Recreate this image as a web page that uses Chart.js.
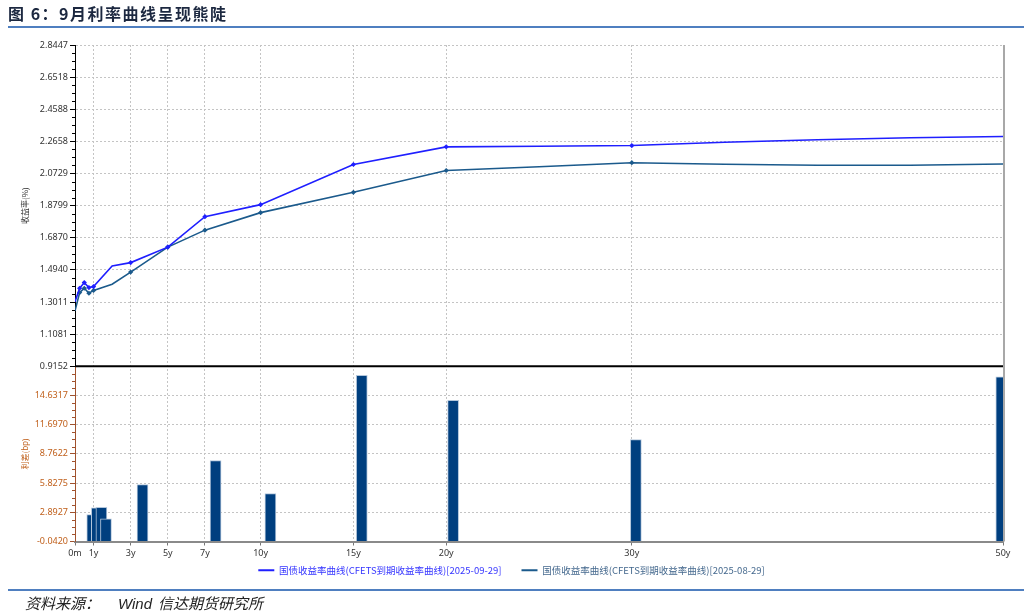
<!DOCTYPE html>
<html lang="zh-CN">
  <head>
    <meta charset="UTF-8" />
    <title>9月利率曲线呈现熊陡</title>
    <script src="https://cdn.jsdelivr.net/npm/chart.js"></script>
    <style>
      body {
        margin: 0;
        background: #fff;
        font-family: "Noto Sans CJK SC", "Noto Sans", sans-serif;
      }
      .page {
        position: relative;
        width: 1032px;
        height: 616px;
        overflow: hidden;
      }
      .title {
        position: absolute;
        left: 8px;
        top: 1px;
        font-size: 16px;
        font-weight: bold;
        color: #1c2840;
        letter-spacing: 1.5px;
      }
      .rule {
        position: absolute;
        left: 8px;
        right: 8px;
        height: 2px;
        background: #4f7fc0;
      }
      .chart-box {
        position: absolute;
        left: 0;
        top: 0;
        width: 1032px;
        height: 599px;
      }
      .source {
        position: absolute;
        left: 25px;
        top: 592px;
        font-size: 15px;
        font-style: italic;
        color: #222;
      }
      .source .en {
        font-family: "Liberation Sans", sans-serif;
        margin-left: 18px;
        margin-right: 6px;
      }
    </style>
  </head>
  <body>
    <div class="page">
      <div class="chart-box"><canvas id="curveChart"></canvas></div>
      <div class="title">图 6：9月利率曲线呈现熊陡</div>
      <div class="rule" style="top: 26px"></div>
      <div class="rule" style="top: 589px"></div>
      <div class="source">资料来源：<span class="en">Wind</span>信达期货研究所</div>
    </div>

    <script>
      // Data (years to maturity, yields in %, spreads in bp)
      const tenors = [0, 0.25, 0.5, 0.75, 1, 2, 3, 5, 7, 10, 15, 20, 25, 30, 35, 40, 45, 50];
      const yieldSep29 = [1.303, 1.384, 1.418, 1.388, 1.394, 1.518, 1.538, 1.631, 1.814, 1.886, 2.127, 2.233, 2.237, 2.241, 2.261, 2.276, 2.288, 2.295];
      const yieldAug29 = [1.248, 1.358, 1.384, 1.354, 1.371, 1.408, 1.481, 1.631, 1.733, 1.838, 1.960, 2.091, 2.114, 2.138, 2.129, 2.123, 2.123, 2.130];
      const markedTenors = [0.25, 0.5, 0.75, 1, 3, 5, 7, 10, 15, 20, 30];

      const spreadTenors = [0.25, 0.5, 0.75, 1, 3, 5, 7, 10, 15, 20, 30, 50];
      const spreadBp = [2.66, 3.33, 3.39, 2.23, 5.68, 0, 8.1, 4.78, 16.66, 14.16, 10.2, 16.5];

      const xTickValues = [0, 1, 3, 5, 7, 10, 15, 20, 30, 50];
      const xTickLabels = ["0m", "1y", "3y", "5y", "7y", "10y", "15y", "20y", "30y", "50y"];
      const yieldTickLabels = ["0.9152", "1.1081", "1.3011", "1.4940", "1.6870", "1.8799", "2.0729", "2.2658", "2.4588", "2.6518", "2.8447"];
      const spreadTickLabels = ["-0.0420", "2.8927", "5.8275", "8.7622", "11.6970", "14.6317"];
      const spreadAxisMax = 17.5664;

      const seriesNames = [
        "国债收益率曲线(CFETS到期收益率曲线)[2025-09-29]",
        "国债收益率曲线(CFETS到期收益率曲线)[2025-08-29]",
      ];

      // Helpers
      const toPoints = (xs, ys) => xs.map((x, i) => ({ x, y: ys[i] }));
      const fixTicks = (values) => (scale) => {
        scale.ticks = values.map((value) => ({ value }));
      };
      const markerRadius = (ctx) =>
        markedTenors.includes(tenors[ctx.dataIndex]) ? 2.6 : 0;

      const tickFont = { family: "'Noto Sans', 'Noto Sans CJK SC', sans-serif", size: 9 };
      const gridColor = "#c4c4c4";

      // pull the legend up right under the axis labels
      const legendNudge = {
        id: "legendNudge",
        afterLayout(chart) {
          const lg = chart.legend;
          if (!lg) return;
          const h = lg.height;
          lg.top = chart.scales.x.bottom - 14;
          lg.bottom = lg.top + h;
        },
      };

      // minor ticks, right frame and the divider between the two panels
      const panelFrame = {
        id: "panelFrame",
        afterDraw(chart) {
          const { ctx, chartArea } = chart;
          const { y, yb } = chart.scales;
          ctx.save();
          ctx.lineWidth = 1;
          [
            [y, "#000", y.max],
            [yb, "#a0522d", spreadAxisMax],
          ].forEach(([scale, color, top]) => {
            const t = scale.ticks.map((tk) => tk.value);
            const step = t[1] - t[0];
            ctx.strokeStyle = color;
            ctx.beginPath();
            t.forEach((v) => {
              for (let k = 1; k < 4; k++) {
                const mv = v + (step * k) / 4;
                if (mv > top + 1e-6) continue;
                const py = Math.round(scale.getPixelForValue(mv)) + 0.5;
                ctx.moveTo(scale.right - 3, py);
                ctx.lineTo(scale.right, py);
              }
            });
            ctx.stroke();
          });

          ctx.strokeStyle = "#a8a8a8";
          ctx.lineWidth = 2;
          ctx.beginPath();
          ctx.moveTo(chartArea.right + 1, chartArea.top);
          ctx.lineTo(chartArea.right + 1, chartArea.bottom);
          ctx.stroke();

          ctx.strokeStyle = "#000";
          ctx.lineWidth = 2;
          ctx.beginPath();
          ctx.moveTo(chartArea.left, yb.top);
          ctx.lineTo(chartArea.right, yb.top);
          ctx.stroke();
          ctx.restore();
        },
      };

      new Chart(document.getElementById("curveChart"), {
        data: {
          datasets: [
            {
              type: "line",
              label: seriesNames[0],
              data: toPoints(tenors, yieldSep29),
              xAxisID: "x",
              yAxisID: "y",
              borderColor: "#1f1fff",
              backgroundColor: "#1f1fff",
              borderWidth: 1.6,
              pointStyle: "rectRot",
              pointRadius: markerRadius,
              pointBorderWidth: 0,
              tension: 0,
            },
            {
              type: "line",
              label: seriesNames[1],
              data: toPoints(tenors, yieldAug29),
              xAxisID: "x",
              yAxisID: "y",
              borderColor: "#1b5a8c",
              backgroundColor: "#1b5a8c",
              borderWidth: 1.6,
              pointStyle: "rectRot",
              pointRadius: markerRadius,
              pointBorderWidth: 0,
              tension: 0,
            },
            {
              type: "bar",
              label: "利差",
              data: toPoints(spreadTenors, spreadBp),
              xAxisID: "xb",
              yAxisID: "yb",
              backgroundColor: "#003f7f",
              borderColor: "#b3c6db",
              borderWidth: 1,
              barThickness: 11,
            },
          ],
        },
        options: {
          responsive: true,
          maintainAspectRatio: false,
          animation: false,
          layout: { padding: { left: 20, top: 45, right: 29, bottom: 0 } },
          scales: {
            x: {
              type: "linear",
              position: "bottom",
              min: 0,
              max: 50,
              afterBuildTicks: fixTicks(xTickValues),
              afterFit: (scale) => {
                scale.height = 18;
              },
              ticks: {
                color: "#333",
                font: tickFont,
                maxRotation: 0,
                autoSkip: false,
                callback: (v, i) => xTickLabels[i],
              },
              grid: { color: gridColor, tickColor: "#777", tickLength: 4 },
              border: { color: "#8a8a8a", width: 2, dash: [2, 2] },
            },
            // bars sit on their own hidden axis, padded a little on both ends
            xb: {
              type: "linear",
              position: "bottom",
              offset: false,
              min: -0.394,
              max: 50.394,
              ticks: { display: false },
              grid: { display: false, drawTicks: false, offset: false },
              border: { display: false },
              afterFit: (scale) => {
                scale.height = 0;
              },
            },
            y: {
              type: "linear",
              position: "left",
              stack: "panels",
              stackWeight: 321,
              weight: 1,
              min: 0.9152,
              max: 2.8447,
              afterBuildTicks: fixTicks(yieldTickLabels.map(Number)),
              afterFit: (scale) => {
                scale.width = 55;
              },
              ticks: {
                color: "#333",
                font: tickFont,
                padding: 2,
                callback: (v, i) => yieldTickLabels[i],
              },
              grid: { color: gridColor, tickColor: "#000", tickLength: 5 },
              border: { color: "#000", width: 1, dash: [2, 2] },
              title: {
                display: true,
                text: "收益率(%)",
                color: "#333",
                font: { family: "'Noto Sans CJK SC', sans-serif", size: 8 },
                padding: 0,
              },
            },
            yb: {
              type: "linear",
              position: "left",
              stack: "panels",
              stackWeight: 175,
              weight: 0,
              min: -0.042,
              max: spreadAxisMax,
              afterBuildTicks: fixTicks(spreadTickLabels.map(Number)),
              afterFit: (scale) => {
                scale.width = 55;
              },
              ticks: {
                color: "#c0601c",
                font: tickFont,
                padding: 2,
                callback: (v, i) => spreadTickLabels[i],
              },
              grid: { color: gridColor, tickColor: "#a0522d", tickLength: 5 },
              border: { color: "#a0522d", width: 1, dash: [2, 2] },
              title: {
                display: true,
                text: "利差(bp)",
                color: "#c0601c",
                font: { family: "'Noto Sans CJK SC', sans-serif", size: 8 },
                padding: 0,
              },
            },
          },
          plugins: {
            tooltip: { enabled: false },
            legend: {
              position: "bottom",
              labels: {
                usePointStyle: true,
                pointStyle: "line",
                pointStyleWidth: 16,
                padding: 20,
                font: { family: "'Noto Sans CJK SC', sans-serif", size: 9.5 },
                filter: (item) => item.datasetIndex < 2,
                generateLabels: (chart) =>
                  Chart.defaults.plugins.legend.labels
                    .generateLabels(chart)
                    .map((item) => ({
                      ...item,
                      lineWidth: 2,
                      fontColor: item.datasetIndex === 0 ? "#3535ff" : "#45698e",
                    })),
              },
            },
          },
        },
        plugins: [legendNudge, panelFrame],
      });
    </script>
  </body>
</html>
